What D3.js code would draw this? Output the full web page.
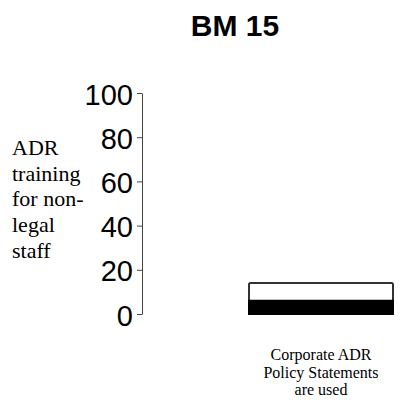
<!DOCTYPE html>
<html><head><meta charset="utf-8">
<script src="https://cdn.jsdelivr.net/npm/d3@7"></script>
<style>body{margin:0;background:#fff}svg{display:block}</style>
</head><body>
<svg id="c" width="408" height="404"></svg>
<script>
const title = "BM 15";
const categories = ["Corporate ADR Policy Statements are used"];
const categoryLines = [["Corporate ADR", "Policy Statements", "are used"]];
const lowerValues = [6];   // black segment
const upperValues = [14];  // top of white segment
const yTicks = [0, 20, 40, 60, 80, 100];
const yLabelLines = ["ADR", "training", "for non-", "legal", "staff"];

const svg = d3.select("#c");
const y = d3.scaleLinear().domain([0, 100]).range([314, 93]);
const x = d3.scaleBand().domain(categories).range([249, 393]).padding(0);

svg.append("text").attr("x", 235).attr("y", 36)
  .attr("text-anchor", "middle").attr("font-family", "Liberation Sans, Arial, sans-serif")
  .attr("font-weight", "bold").attr("font-size", 30).attr("fill", "#000").text(title);

const ax = svg.append("g").attr("transform", "translate(142,0)")
  .call(d3.axisLeft(y).tickValues(yTicks).tickSize(5).tickPadding(4).tickSizeOuter(0));
ax.select(".domain").attr("stroke", "#444").attr("stroke-width", 1);
ax.selectAll(".tick line").attr("stroke", "#444");
ax.selectAll(".tick text").attr("font-family", "Liberation Sans, Arial, sans-serif")
  .attr("font-size", 29).attr("fill", "#000").attr("dy", "0.38em");

const yl = svg.append("text").attr("font-family", "Liberation Serif, Times New Roman, serif")
  .attr("font-size", 22).attr("fill", "#000");
yLabelLines.forEach((t, i) => yl.append("tspan").attr("x", 12).attr("y", 155 + i * 25.7).text(t));

categories.forEach((c, i) => {
  svg.append("rect").attr("x", x(c)).attr("y", y(upperValues[i]))
    .attr("width", x.bandwidth()).attr("height", y(0) - y(upperValues[i]))
    .attr("fill", "#fff").attr("stroke", "#333").attr("stroke-width", 2).attr("rx", 1.5);
  svg.append("rect").attr("x", x(c)).attr("y", y(lowerValues[i]))
    .attr("width", x.bandwidth()).attr("height", y(0) - y(lowerValues[i]))
    .attr("fill", "#000").attr("stroke", "#000").attr("stroke-width", 2);
  const t = svg.append("text").attr("text-anchor", "middle")
    .attr("font-family", "Liberation Serif, Times New Roman, serif")
    .attr("font-size", 16).attr("fill", "#000");
  categoryLines[i].forEach((l, j) => t.append("tspan")
    .attr("x", x(c) + x.bandwidth() / 2).attr("y", 360 + j * 17.5).text(l));
});
</script>
</body></html>
